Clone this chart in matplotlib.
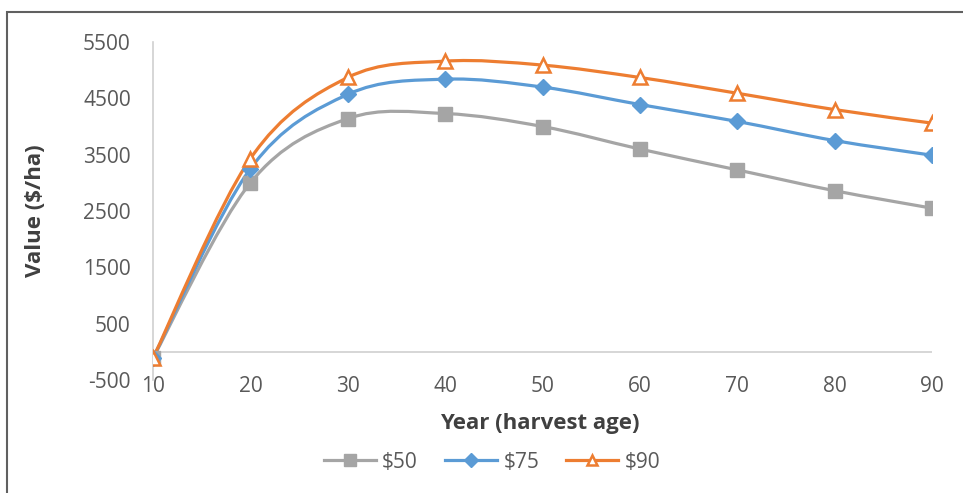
import numpy as np
import matplotlib.pyplot as plt
from matplotlib.path import Path
from matplotlib.patches import PathPatch, Rectangle
from matplotlib.lines import Line2D

plt.rcParams['font.family'] = ['Open Sans', 'DejaVu Sans']
plt.rcParams['axes.unicode_minus'] = False

# harvest age and value series
years = [10, 20, 30, 40, 50, 60, 70, 80, 90]
v50 = [-110, 3000, 4140, 4230, 4000, 3600, 3230, 2860, 2550]
v75 = [-110, 3250, 4570, 4840, 4700, 4390, 4090, 3750, 3490]
v90 = [-110, 3430, 4870, 5160, 5090, 4870, 4590, 4300, 4060]
labels = ['$50', '$75', '$90']

colors = ['#A5A5A5', '#5B9BD5', '#ED7D31']
markers = ['s', 'D', '^']


def smooth_path(x, y):
	# Excel style smoothed line: catmull-rom turned into cubic bezier pieces
	pts = np.column_stack([x, y]).astype(float)
	n = len(pts)
	verts = [pts[0]]
	codes = [Path.MOVETO]
	for i in range(n - 1):
		p0 = pts[max(i - 1, 0)]
		p1 = pts[i]
		p2 = pts[i + 1]
		p3 = pts[min(i + 2, n - 1)]
		c1 = p1 + (p2 - p0) / 6.0
		c2 = p2 - (p3 - p1) / 6.0
		verts += [c1, c2, p2]
		codes += [Path.CURVE4] * 3
	return Path(verts, codes)


fig = plt.figure(figsize=(9.63, 4.93), dpi=100)
ax = fig.add_axes([153 / 963, 113 / 493, 779 / 963, 338 / 493])

handles = []
for vals, col, mk, lab in zip([v50, v75, v90], colors, markers, labels):
	ax.add_patch(PathPatch(smooth_path(years, vals), facecolor='none',
		edgecolor=col, lw=2.3, capstyle='round', zorder=3))
	if mk == '^':
		ax.plot(years, vals, linestyle='none', marker=mk, ms=10.5,
			mfc='white', mec=col, mew=1.8, zorder=4)
	else:
		ax.plot(years, vals, linestyle='none', marker=mk,
			ms=10 if mk == 's' else 8.5, color=col, zorder=4)
	handles.append(Line2D([0], [0], color=col, lw=2.3, marker=mk,
		ms=9 if mk == 's' else 7.5,
		mfc='white' if mk == '^' else col, mec=col,
		mew=1.8 if mk == '^' else 1))

ax.set_xlim(10, 90)
ax.set_ylim(-500, 5500)
ax.set_xticks(years)
ax.set_yticks(np.arange(-500, 5501, 1000))

ax.axhline(0, color='#d0d0d0', lw=1.2, zorder=1)
for s in ['top', 'right', 'bottom']:
	ax.spines[s].set_visible(False)
ax.spines['left'].set_color('#d0d0d0')
ax.spines['left'].set_linewidth(1.2)
ax.tick_params(length=0, labelsize=15, labelcolor='#595959')
ax.tick_params(axis='x', pad=-3)
ax.tick_params(axis='y', pad=16)

ax.set_ylabel('Value ($/ha)', fontsize=16, fontweight='bold', color='#404040')
ax.yaxis.set_label_coords((46 - 153) / 779, 0.5)
ax.set_xlabel('Year (harvest age)', fontsize=16, fontweight='bold', color='#404040')
ax.xaxis.set_label_coords((540 - 153) / 779, -(413 - 380) / 338)

fig.legend(handles, labels, loc='center', bbox_to_anchor=(492 / 963, 1 - 462 / 493),
	ncol=3, frameon=False, fontsize=15, labelcolor='#595959',
	handlelength=2.5, columnspacing=1.3, handletextpad=0.3)

# outer chart border
fig.patches.append(Rectangle((7 / 963, -0.1), 1.1, 1.1 - 12 / 493,
	transform=fig.transFigure, fill=False, edgecolor='#606060', lw=1.5))

fig.savefig('out.png', dpi=100)
